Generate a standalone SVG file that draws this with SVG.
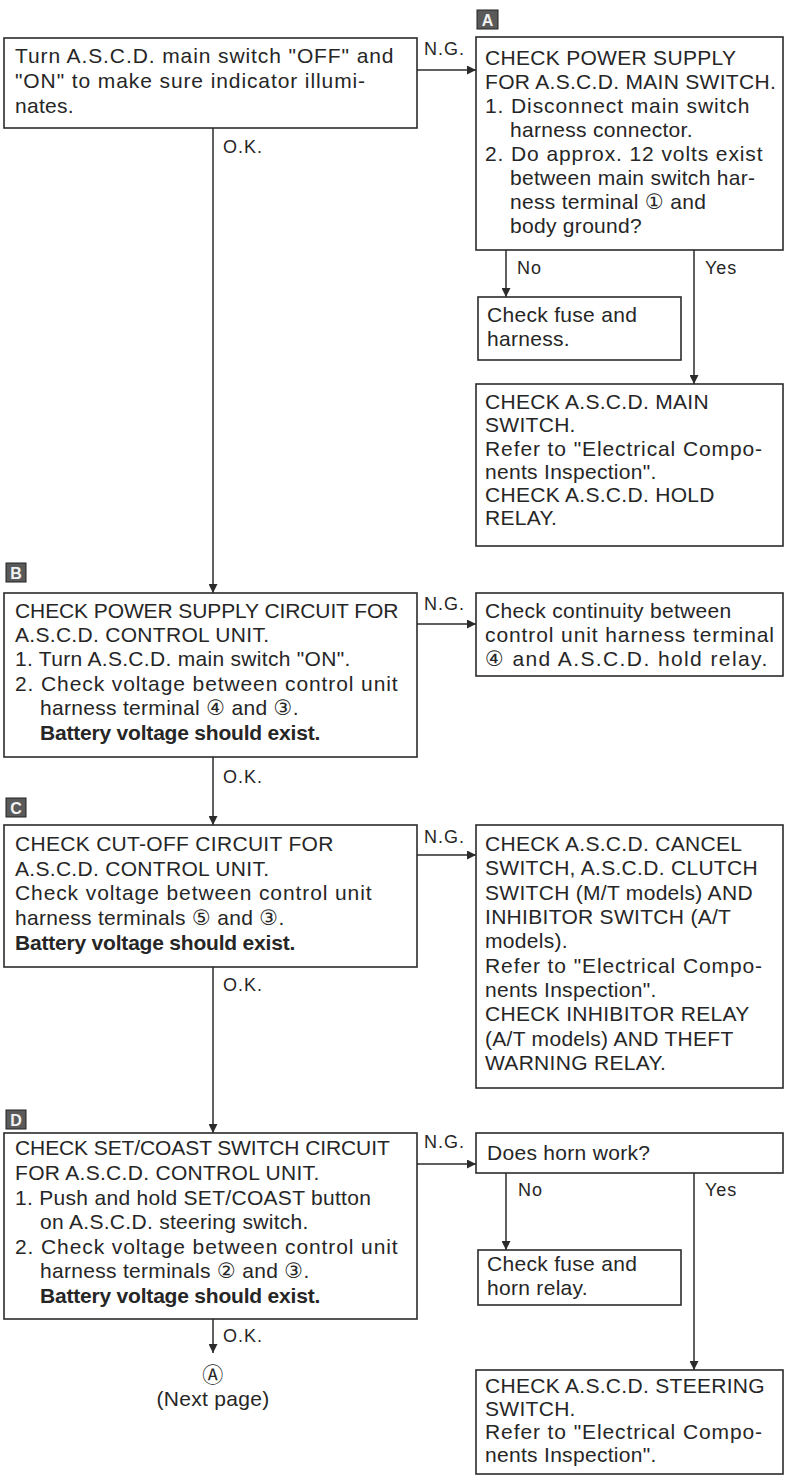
<svg xmlns="http://www.w3.org/2000/svg" width="787" height="1477" viewBox="0 0 787 1477">
<defs>
<style>
.box{fill:#fff;stroke:#2b2b2b;stroke-width:1.6}
.t{font-family:"Liberation Sans",Arial,"DejaVu Sans","Noto Sans CJK JP",sans-serif;font-size:21px;fill:#262626;letter-spacing:0.3px}
.lc{letter-spacing:0.9px}
.uc{letter-spacing:-0.1px}
.b{font-weight:bold;letter-spacing:-0.2px}
.lbl{font-family:"Liberation Sans",Arial,sans-serif;font-size:18px;fill:#262626;letter-spacing:1px}
.ln{fill:none;stroke:#2b2b2b;stroke-width:1.5}
.badge{fill:#5a5a5a;stroke:#222;stroke-width:1}
.bl{font-family:"Liberation Sans",Arial,sans-serif;font-size:16px;font-weight:bold;fill:#f2f2f2;text-anchor:middle}
</style>
<marker id="ah" viewBox="0 0 10 10" refX="10" refY="5" markerWidth="9" markerHeight="9" markerUnits="userSpaceOnUse" orient="auto">
<path d="M0,0 L10,5 L0,10 Z" fill="#2b2b2b"/>
</marker>
</defs>
<rect width="787" height="1477" fill="#fff"/>

<g id="connectors">
<line class="ln" x1="417" y1="70" x2="476" y2="70" marker-end="url(#ah)"/>
<text class="lbl" x="424" y="55">N.G.</text>
<line class="ln" x1="213" y1="128" x2="213" y2="593" marker-end="url(#ah)"/>
<text class="lbl" x="223" y="153">O.K.</text>
<line class="ln" x1="506" y1="250" x2="506" y2="297" marker-end="url(#ah)"/>
<text class="lbl" x="517" y="274">No</text>
<line class="ln" x1="694" y1="250" x2="694" y2="384" marker-end="url(#ah)"/>
<text class="lbl" x="705" y="274">Yes</text>
<line class="ln" x1="417" y1="624" x2="476" y2="624" marker-end="url(#ah)"/>
<text class="lbl" x="424" y="610">N.G.</text>
<line class="ln" x1="213" y1="757" x2="213" y2="825" marker-end="url(#ah)"/>
<text class="lbl" x="223" y="783">O.K.</text>
<line class="ln" x1="417" y1="855" x2="476" y2="855" marker-end="url(#ah)"/>
<text class="lbl" x="424" y="843">N.G.</text>
<line class="ln" x1="213" y1="967" x2="213" y2="1133" marker-end="url(#ah)"/>
<text class="lbl" x="223" y="991">O.K.</text>
<line class="ln" x1="417" y1="1164" x2="476" y2="1164" marker-end="url(#ah)"/>
<text class="lbl" x="424" y="1148">N.G.</text>
<line class="ln" x1="506" y1="1173" x2="506" y2="1250" marker-end="url(#ah)"/>
<text class="lbl" x="518" y="1196">No</text>
<line class="ln" x1="694" y1="1173" x2="694" y2="1370" marker-end="url(#ah)"/>
<text class="lbl" x="705" y="1196">Yes</text>
<line class="ln" x1="213" y1="1319" x2="213" y2="1353" marker-end="url(#ah)"/>
<text class="lbl" x="223" y="1342">O.K.</text>
</g>

<g id="badgeA"><rect class="badge" x="477" y="10" width="21" height="19"/><text class="bl" x="487.5" y="25.5">A</text></g>
<g id="badgeB"><rect class="badge" x="6" y="563" width="20" height="19"/><text class="bl" x="16" y="578.5">B</text></g>
<g id="badgeC"><rect class="badge" x="6" y="798" width="20" height="19"/><text class="bl" x="16" y="813.5">C</text></g>
<g id="badgeD"><rect class="badge" x="6" y="1110" width="20" height="19"/><text class="bl" x="16" y="1125.5">D</text></g>

<g id="start">
<rect class="box" x="4" y="38" width="413" height="90"/>
<text class="t lc" x="15" y="63">Turn A.S.C.D. main switch "OFF" and</text>
<text class="t lc" x="15" y="88">"ON" to make sure indicator illumi-</text>
<text class="t" x="15" y="113">nates.</text>
</g>

<g id="nodeA">
<rect class="box" x="476" y="37" width="307" height="213"/>
<text class="t" x="485" y="65">CHECK POWER SUPPLY</text>
<text class="t" x="485" y="89">FOR A.S.C.D. MAIN SWITCH.</text>
<text class="t lc" x="485" y="113">1. Disconnect main switch</text>
<text class="t" x="510" y="137">harness connector.</text>
<text class="t lc" x="485" y="161">2. Do approx. 12 volts exist</text>
<text class="t" x="510" y="185">between main switch har-</text>
<text class="t" x="510" y="209">ness terminal ① and</text>
<text class="t" x="510" y="233">body ground?</text>
</g>

<g id="fuse1">
<rect class="box" x="478" y="297" width="203" height="63"/>
<text class="t" x="487" y="322">Check fuse and</text>
<text class="t" x="487" y="346">harness.</text>
</g>

<g id="mainSwitch">
<rect class="box" x="476" y="384" width="307" height="162"/>
<text class="t" x="485" y="409">CHECK A.S.C.D. MAIN</text>
<text class="t" x="485" y="432">SWITCH.</text>
<text class="t lc" x="485" y="456">Refer to "Electrical Compo-</text>
<text class="t" x="485" y="479">nents Inspection".</text>
<text class="t" x="485" y="502">CHECK A.S.C.D. HOLD</text>
<text class="t" x="485" y="525">RELAY.</text>
</g>

<g id="nodeB">
<rect class="box" x="4" y="593" width="413" height="164"/>
<text class="t uc" x="15" y="618">CHECK POWER SUPPLY CIRCUIT FOR</text>
<text class="t" x="15" y="642">A.S.C.D. CONTROL UNIT.</text>
<text class="t" x="15" y="666">1. Turn A.S.C.D. main switch "ON".</text>
<text class="t lc" x="15" y="691">2. Check voltage between control unit</text>
<text class="t" x="40" y="715">harness terminal ④ and ③.</text>
<text class="t b" x="40" y="740">Battery voltage should exist.</text>
</g>

<g id="nodeBng">
<rect class="box" x="476" y="593" width="307" height="83"/>
<text class="t" x="485" y="618">Check continuity between</text>
<text class="t lc" x="485" y="642">control unit harness terminal</text>
<text class="t" x="485" y="666" style="letter-spacing:1.4px">④ and A.S.C.D. hold relay.</text>
</g>

<g id="nodeC">
<rect class="box" x="4" y="825" width="413" height="142"/>
<text class="t" x="15" y="851">CHECK CUT-OFF CIRCUIT FOR</text>
<text class="t" x="15" y="876">A.S.C.D. CONTROL UNIT.</text>
<text class="t lc" x="15" y="900">Check voltage between control unit</text>
<text class="t" x="15" y="925">harness terminals ⑤ and ③.</text>
<text class="t b" x="15" y="950">Battery voltage should exist.</text>
</g>

<g id="nodeCng">
<rect class="box" x="476" y="825" width="307" height="263"/>
<text class="t" x="485" y="851">CHECK A.S.C.D. CANCEL</text>
<text class="t" x="485" y="875">SWITCH, A.S.C.D. CLUTCH</text>
<text class="t" x="485" y="900">SWITCH (M/T models) AND</text>
<text class="t" x="485" y="924">INHIBITOR SWITCH (A/T</text>
<text class="t" x="485" y="948">models).</text>
<text class="t lc" x="485" y="973">Refer to "Electrical Compo-</text>
<text class="t" x="485" y="997">nents Inspection".</text>
<text class="t" x="485" y="1021">CHECK INHIBITOR RELAY</text>
<text class="t" x="485" y="1046">(A/T models) AND THEFT</text>
<text class="t" x="485" y="1070">WARNING RELAY.</text>
</g>

<g id="nodeD">
<rect class="box" x="4" y="1133" width="413" height="186"/>
<text class="t uc" x="15" y="1155">CHECK SET/COAST SWITCH CIRCUIT</text>
<text class="t" x="15" y="1180">FOR A.S.C.D. CONTROL UNIT.</text>
<text class="t" x="15" y="1205">1. Push and hold SET/COAST button</text>
<text class="t" x="40" y="1229">on A.S.C.D. steering switch.</text>
<text class="t lc" x="15" y="1254">2. Check voltage between control unit</text>
<text class="t" x="40" y="1278">harness terminals ② and ③.</text>
<text class="t b" x="40" y="1303">Battery voltage should exist.</text>
</g>

<g id="horn">
<rect class="box" x="476" y="1133" width="307" height="40"/>
<text class="t" x="487" y="1160">Does horn work?</text>
</g>

<g id="hornFuse">
<rect class="box" x="478" y="1250" width="203" height="55"/>
<text class="t" x="487" y="1271">Check fuse and</text>
<text class="t" x="487" y="1295">horn relay.</text>
</g>

<g id="steering">
<rect class="box" x="476" y="1370" width="307" height="104"/>
<text class="t" x="485" y="1393">CHECK A.S.C.D. STEERING</text>
<text class="t" x="485" y="1416">SWITCH.</text>
<text class="t lc" x="485" y="1439">Refer to "Electrical Compo-</text>
<text class="t" x="485" y="1462">nents Inspection".</text>
</g>

<g id="nextPage">
<text class="t" x="213" y="1382" text-anchor="middle">Ⓐ</text>
<text class="t" x="213" y="1406" text-anchor="middle">(Next page)</text>
</g>
</svg>
